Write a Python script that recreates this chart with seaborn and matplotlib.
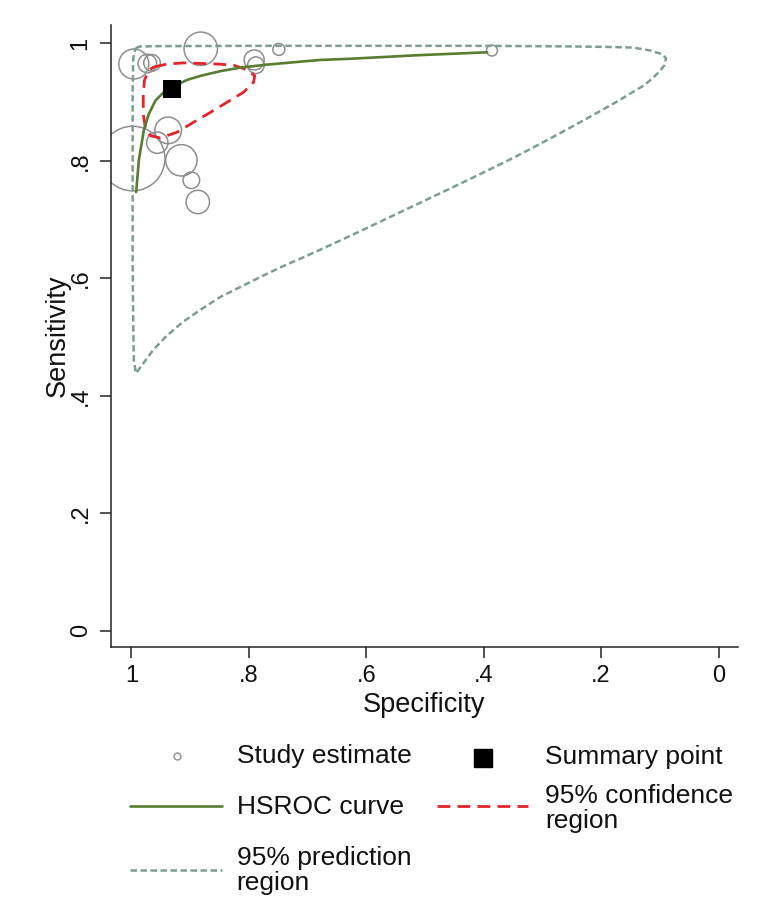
import matplotlib
matplotlib.use("Agg")
import matplotlib.pyplot as plt
from matplotlib.lines import Line2D
import seaborn as sns

# ---------------- data ----------------
study_spec = [0.996, 0.973, 0.965, 0.882, 0.749, 0.791, 0.788, 0.998, 0.9375, 0.956, 0.915, 0.898, 0.887, 0.386]
study_sens = [0.965, 0.966, 0.967, 0.991, 0.990, 0.972, 0.963, 0.804, 0.852, 0.831, 0.801, 0.767, 0.730, 0.988]
study_weight = [225, 86, 69, 279, 36, 100, 69, 1043, 177, 114, 246, 69, 137, 30]

summary_spec = [0.931]
summary_sens = [0.922]

hsroc_spec = [0.992, 0.9875, 0.979, 0.9705, 0.959, 0.945, 0.931, 0.905, 0.882, 0.848,
              0.814, 0.769, 0.724, 0.678, 0.627, 0.513, 0.394]
hsroc_sens = [0.747, 0.801, 0.852, 0.880, 0.903, 0.917, 0.926, 0.938, 0.945, 0.953,
              0.959, 0.964, 0.968, 0.972, 0.974, 0.980, 0.985]

conf_spec = [0.962, 0.939, 0.911, 0.882, 0.854, 0.826, 0.803, 0.790, 0.792, 0.809, 0.837,
             0.865, 0.894, 0.922, 0.951, 0.968, 0.976, 0.980, 0.980, 0.978, 0.971, 0.962]
conf_sens = [0.960, 0.965, 0.967, 0.966, 0.965, 0.963, 0.955, 0.945, 0.934, 0.917, 0.900,
             0.883, 0.866, 0.849, 0.839, 0.843, 0.855, 0.880, 0.909, 0.937, 0.954, 0.960]

pred_spec = [0.993, 0.985, 0.95, 0.8, 0.6, 0.4, 0.25, 0.18, 0.145, 0.116, 0.097, 0.0894,
             0.092, 0.100, 0.112, 0.128, 0.173, 0.230, 0.287, 0.344, 0.401, 0.457, 0.514, 0.571,
             0.611, 0.656, 0.702, 0.741, 0.781, 0.815, 0.849, 0.883, 0.912, 0.940, 0.963,
             0.980, 0.9923, 0.996, 0.997, 0.998, 0.998, 0.998, 0.998, 0.997, 0.993]
pred_sens = [0.992, 0.995, 0.9955, 0.996, 0.996, 0.996, 0.995, 0.994, 0.993, 0.988, 0.982, 0.975,
             0.963, 0.953, 0.941, 0.928, 0.901, 0.869, 0.838, 0.808, 0.780, 0.753, 0.726, 0.699,
             0.680, 0.659, 0.638, 0.621, 0.602, 0.585, 0.568, 0.546, 0.526, 0.502, 0.478,
             0.455, 0.438, 0.460, 0.52, 0.62, 0.72, 0.82, 0.92, 0.975, 0.992]

x_ticks = [1, 0.8, 0.6, 0.4, 0.2, 0]
x_ticklabels = ["1", ".8", ".6", ".4", ".2", "0"]
y_ticks = [0, 0.2, 0.4, 0.6, 0.8, 1]
y_ticklabels = ["0", ".2", ".4", ".6", ".8", "1"]

legend_labels = ["Study estimate", "Summary point", "HSROC curve",
                 "95% confidence\nregion", "95% prediction\nregion"]

# ---------------- styling ----------------
GREEN = "#587c30"
RED = "#e3242b"
PRED = "#7f9c90"
CIRC = "#8e8e8e"
INK = "#111111"

sns.set_style("ticks")
plt.rcParams["font.family"] = ["Liberation Sans", "DejaVu Sans"]
plt.rcParams["text.color"] = INK
plt.rcParams["axes.labelcolor"] = INK
plt.rcParams["xtick.color"] = INK
plt.rcParams["ytick.color"] = INK

W, H = 781, 922
fig = plt.figure(figsize=(W / 100, H / 100), dpi=100)
ax = fig.add_axes([110.7 / W, 1 - 647.3 / H, (738 - 110.7) / W, (647.3 - 25) / H])

# study estimates
wmax = max(study_weight)
sns.scatterplot(x=study_spec, y=study_sens, size=study_weight,
                sizes=(0, 2.073 * wmax), size_norm=(0, wmax),
                facecolor="none", edgecolor=CIRC, linewidth=1.1,
                legend=False, ax=ax, zorder=2)

# prediction region
sns.lineplot(x=pred_spec, y=pred_sens, sort=False, estimator=None, color=PRED,
             linewidth=1.8, linestyle=(0, (2.6, 1.4)), ax=ax, zorder=3)
# confidence region
sns.lineplot(x=conf_spec, y=conf_sens, sort=False, estimator=None, color=RED,
             linewidth=2.0, linestyle=(0, (4.6, 2.6)), ax=ax, zorder=4)
# HSROC curve
sns.lineplot(x=hsroc_spec, y=hsroc_sens, sort=False, estimator=None, color=GREEN,
             linewidth=1.9, ax=ax, zorder=5)
# summary point
sns.scatterplot(x=summary_spec, y=summary_sens, marker="s", s=12.7 ** 2,
                color="black", edgecolor="black", linewidth=0, ax=ax, zorder=6)

ax.set_xlim(1.0354, -0.0332)
ax.set_ylim(-0.0286, 1.0315)
ax.set_xticks(x_ticks)
ax.set_xticklabels(x_ticklabels)
ax.set_yticks(y_ticks)
ax.set_yticklabels(y_ticklabels)
ax.tick_params(axis="x", bottom=True, length=7.7, width=1.1, color="#222222", labelsize=17, pad=5, direction="out")
ax.tick_params(axis="y", left=True, length=7.7, width=1.1, color="#222222", labelsize=17, pad=6, direction="out")
for t in ax.get_yticklabels():
    t.set_rotation(90)
    t.set_va("center")

for s in ["top", "right"]:
    ax.spines[s].set_visible(False)
for s in ["left", "bottom"]:
    ax.spines[s].set_color("#222222")
    ax.spines[s].set_linewidth(1.1)

ax.set_xlabel("Specificity", fontsize=19.5, va="center")
ax.xaxis.set_label_coords(0.5, -(705 - 647.3) / (647.3 - 25))
ax.set_ylabel("Sensitivity", fontsize=19.5, va="center", rotation=90)
ax.yaxis.set_label_coords(-(110.7 - 58) / (738 - 110.7), 0.5)


# ---------------- legend (drawn manually below the plot) ----------------
def fx(px):
    return px / W


def fy(py):
    return 1 - py / H


LFS = 19
fig.add_artist(Line2D([fx(176.7)], [fy(756)], marker="o", markersize=5, markerfacecolor="none",
                      markeredgecolor=CIRC, markeredgewidth=1.0, linestyle="none"))
fig.text(fx(236.7), fy(756), legend_labels[0], fontsize=LFS, va="center", ha="left")
fig.add_artist(Line2D([fx(483.3)], [fy(757.7)], marker="s", markersize=13.5, color="black",
                      linestyle="none"))
fig.text(fx(545), fy(757), legend_labels[1], fontsize=LFS, va="center", ha="left")
fig.add_artist(Line2D([fx(130), fx(221.7)], [fy(806), fy(806)], color=GREEN, linewidth=1.9))
fig.text(fx(236.7), fy(807), legend_labels[2], fontsize=LFS, va="center", ha="left")
fig.add_artist(Line2D([fx(436.7), fx(528)], [fy(806), fy(806)], color=RED, linewidth=2.0,
                      linestyle=(0, (4.6, 2.6))))
fig.text(fx(545), fy(808.5), legend_labels[3], fontsize=LFS, va="center", ha="left", linespacing=1.07)
fig.add_artist(Line2D([fx(130), fx(221.7)], [fy(870), fy(870)], color=PRED, linewidth=1.8,
                      linestyle=(0, (2.6, 1.4))))
fig.text(fx(236.7), fy(870.5), legend_labels[4], fontsize=LFS, va="center", ha="left", linespacing=1.02)

fig.savefig("out.png", dpi=100, facecolor="white")
